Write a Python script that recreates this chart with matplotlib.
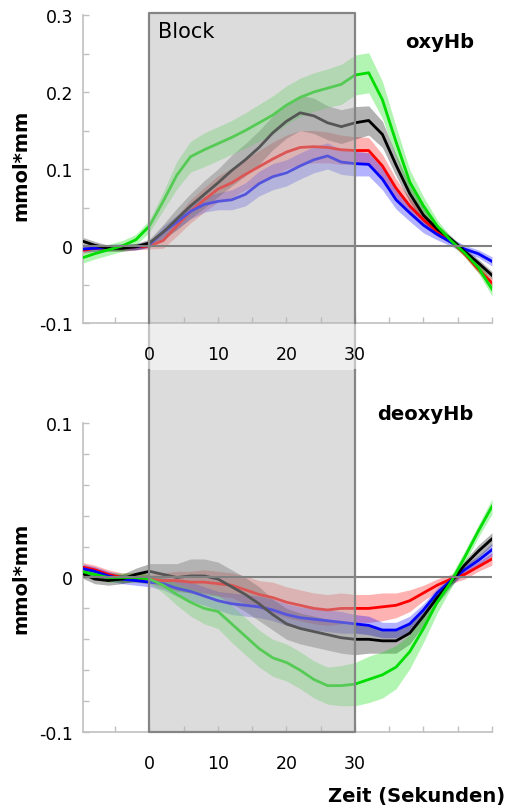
# fNIRS block average: oxyHb / deoxyHb

import numpy as np
import matplotlib
matplotlib.use('Agg')
import matplotlib.pyplot as plt
from matplotlib.patches import Rectangle
from matplotlib.lines import Line2D
from matplotlib.transforms import blended_transform_factory

# time axis (seconds), block from 0 to 30
zeit = np.arange(-10, 51, 2)
block = (0, 30)

# oxyHb means (mmol*mm)
oxy_green = [-0.016, -0.010, -0.005, 0.000, 0.008, 0.026, 0.058, 0.092, 0.116, 0.125,
             0.133, 0.141, 0.150, 0.160, 0.170, 0.183, 0.193, 0.200, 0.205, 0.210,
             0.222, 0.225, 0.190, 0.135, 0.083, 0.052, 0.026, 0.007, -0.009, -0.028, -0.056]
oxy_black = [0.007, 0.001, -0.003, -0.003, -0.001, 0.004, 0.018, 0.035, 0.052, 0.067,
             0.082, 0.098, 0.112, 0.128, 0.147, 0.162, 0.173, 0.169, 0.160, 0.155,
             0.160, 0.163, 0.145, 0.105, 0.068, 0.040, 0.022, 0.009, -0.007, -0.022, -0.038]
oxy_red = [-0.006, -0.003, -0.002, -0.002, -0.001, 0.000, 0.007, 0.026, 0.045, 0.060,
           0.074, 0.082, 0.093, 0.103, 0.113, 0.122, 0.128, 0.129, 0.128, 0.125,
           0.124, 0.124, 0.104, 0.075, 0.052, 0.034, 0.019, 0.007, -0.010, -0.030, -0.048]
oxy_blue = [-0.004, -0.003, -0.002, -0.001, -0.001, 0.002, 0.018, 0.031, 0.045, 0.054,
            0.058, 0.060, 0.067, 0.081, 0.090, 0.095, 0.104, 0.112, 0.117, 0.109,
            0.107, 0.106, 0.087, 0.060, 0.043, 0.027, 0.015, 0.005, -0.004, -0.010, -0.020]

# oxyHb error bands (half width)
oxy_green_err = [0.007, 0.007, 0.007, 0.007, 0.007, 0.008, 0.012, 0.018, 0.020, 0.022,
                 0.022, 0.022, 0.023, 0.024, 0.025, 0.025, 0.025, 0.025, 0.025, 0.026,
                 0.026, 0.026, 0.024, 0.020, 0.016, 0.012, 0.008, 0.005, 0.005, 0.007, 0.009]
oxy_black_err = [0.005, 0.005, 0.004, 0.004, 0.004, 0.005, 0.010, 0.014, 0.016, 0.018,
                 0.018, 0.020, 0.021, 0.022, 0.022, 0.022, 0.023, 0.023, 0.022, 0.022,
                 0.021, 0.019, 0.017, 0.014, 0.011, 0.009, 0.006, 0.004, 0.004, 0.005, 0.005]
oxy_red_err = [0.004, 0.004, 0.004, 0.004, 0.004, 0.004, 0.010, 0.013, 0.015, 0.016,
               0.017, 0.019, 0.020, 0.021, 0.022, 0.022, 0.022, 0.021, 0.020, 0.019,
               0.018, 0.017, 0.015, 0.012, 0.010, 0.008, 0.006, 0.004, 0.004, 0.005, 0.006]
oxy_blue_err = [0.004, 0.004, 0.004, 0.004, 0.004, 0.004, 0.008, 0.009, 0.010, 0.010,
                0.011, 0.013, 0.015, 0.016, 0.017, 0.017, 0.017, 0.017, 0.017, 0.016,
                0.016, 0.015, 0.014, 0.012, 0.011, 0.010, 0.007, 0.005, 0.005, 0.005, 0.006]

# deoxyHb means (mmol*mm)
deoxy_green = [0.004, 0.002, 0.000, 0.000, 0.000, -0.001, -0.005, -0.011, -0.016, -0.020,
               -0.022, -0.030, -0.038, -0.046, -0.052, -0.055, -0.060, -0.066, -0.070, -0.070,
               -0.069, -0.066, -0.063, -0.058, -0.048, -0.033, -0.016, -0.003, 0.013, 0.030, 0.046]
deoxy_black = [0.003, -0.001, -0.002, -0.001, 0.002, 0.004, 0.002, 0.000, 0.001, 0.001,
               -0.001, -0.006, -0.011, -0.017, -0.024, -0.030, -0.033, -0.035, -0.037, -0.039,
               -0.040, -0.040, -0.041, -0.041, -0.036, -0.025, -0.013, -0.003, 0.008, 0.017, 0.025]
deoxy_red = [0.007, 0.005, 0.002, 0.000, 0.000, -0.001, -0.002, -0.002, -0.003, -0.003,
             -0.004, -0.005, -0.008, -0.011, -0.013, -0.016, -0.018, -0.020, -0.021, -0.020,
             -0.020, -0.020, -0.019, -0.018, -0.015, -0.010, -0.005, -0.001, 0.002, 0.007, 0.012]
deoxy_blue = [0.006, 0.004, 0.001, -0.001, -0.002, -0.003, -0.004, -0.007, -0.009, -0.012,
              -0.015, -0.017, -0.018, -0.019, -0.021, -0.024, -0.026, -0.027, -0.028, -0.029,
              -0.030, -0.031, -0.034, -0.034, -0.030, -0.021, -0.010, -0.002, 0.005, 0.011, 0.018]

# deoxyHb error bands (half width)
deoxy_green_err = [0.003, 0.003, 0.003, 0.003, 0.003, 0.003, 0.005, 0.007, 0.009, 0.010,
                   0.011, 0.012, 0.012, 0.012, 0.012, 0.012, 0.012, 0.012, 0.012, 0.013,
                   0.014, 0.015, 0.015, 0.014, 0.011, 0.009, 0.007, 0.004, 0.004, 0.004, 0.005]
deoxy_black_err = [0.003, 0.003, 0.003, 0.003, 0.004, 0.005, 0.007, 0.009, 0.011, 0.011,
                   0.011, 0.011, 0.011, 0.011, 0.010, 0.010, 0.010, 0.010, 0.010, 0.010,
                   0.010, 0.009, 0.008, 0.008, 0.007, 0.006, 0.004, 0.003, 0.003, 0.004, 0.004]
deoxy_red_err = [0.003, 0.003, 0.003, 0.003, 0.003, 0.003, 0.005, 0.006, 0.007, 0.008,
                 0.008, 0.008, 0.009, 0.009, 0.010, 0.010, 0.010, 0.010, 0.010, 0.010,
                 0.009, 0.009, 0.009, 0.008, 0.007, 0.005, 0.004, 0.003, 0.003, 0.003, 0.004]
deoxy_blue_err = [0.003, 0.003, 0.003, 0.003, 0.003, 0.003, 0.004, 0.005, 0.006, 0.006,
                  0.006, 0.007, 0.007, 0.007, 0.007, 0.007, 0.007, 0.007, 0.007, 0.007,
                  0.006, 0.006, 0.005, 0.005, 0.005, 0.004, 0.003, 0.003, 0.003, 0.003, 0.004]

x_ticks = [-5, 0, 5, 10, 15, 20, 25, 30, 35, 40, 45, 50]
x_labels = ['', '0', '', '10', '', '20', '', '30', '', '', '', '']

colors = {'green': '#00dd00', 'black': '#000000', 'red': '#ff0000', 'blue': '#0000ff'}
spine_col = '#c0c0c0'
block_edge = '#858585'

oxy = [('red', oxy_red, oxy_red_err), ('blue', oxy_blue, oxy_blue_err),
       ('black', oxy_black, oxy_black_err), ('green', oxy_green, oxy_green_err)]
deoxy = [('red', deoxy_red, deoxy_red_err), ('blue', deoxy_blue, deoxy_blue_err),
         ('black', deoxy_black, deoxy_black_err), ('green', deoxy_green, deoxy_green_err)]

W, H = 509, 812
fig = plt.figure(figsize=(W / 100, H / 100), dpi=100)
ax1 = fig.add_axes([83 / W, (H - 324) / H, 409 / W, 308 / H])
ax2 = fig.add_axes([83 / W, (H - 733) / H, 409 / W, 362 / H])
ax1.set_facecolor('none')
ax2.set_facecolor('none')


def draw_panel(ax, series, ylim, yticks, ylabels, yminor, top_val):
    for name, mean, err in series:
        m = np.array(mean)
        e = np.array(err)
        ax.fill_between(zeit, m - e, m + e, color=colors[name], alpha=0.3, lw=0, zorder=2)
        ax.plot(zeit, m, color=colors[name], lw=2.0, zorder=3)
    ax.axhline(0, color='#808080', lw=1.5, zorder=6)
    # block overlay (on top of the curves)
    ax.add_patch(Rectangle((block[0], ylim[0]), block[1] - block[0], top_val - ylim[0],
                           facecolor='#b6b6b6', alpha=0.47, lw=0, zorder=5, clip_on=False))
    ax.set_xlim(-9.7, 50)
    ax.set_ylim(*ylim)
    ax.set_xticks(x_ticks)
    ax.set_xticklabels(x_labels)
    ax.set_yticks(yticks)
    ax.set_yticklabels(ylabels)
    ax.set_yticks(yminor, minor=True)
    for s in ['top', 'right']:
        ax.spines[s].set_visible(False)
    for s in ['left', 'bottom']:
        ax.spines[s].set_color(spine_col)
        ax.spines[s].set_linewidth(1.2)
    ax.spines['left'].set_bounds(yticks[0], yticks[-1])
    ax.tick_params(axis='both', which='both', direction='in', color=spine_col,
                   labelsize=12.5, width=1.0)
    ax.tick_params(axis='both', which='major', length=4)
    ax.tick_params(axis='y', which='minor', length=4)
    ax.tick_params(axis='x', pad=16)
    ax.tick_params(axis='y', pad=7)


draw_panel(ax1, oxy, (-0.1, 0.3), [-0.1, 0, 0.1, 0.2, 0.3], ['-0.1', '0', '0.1', '0.2', '0.3'],
           [-0.05, 0.05, 0.15, 0.25], 0.303)
draw_panel(ax2, deoxy, (-0.1, 0.1343), [-0.1, 0, 0.1], ['-0.1', '0', '0.1'],
           [-0.08, -0.06, -0.04, -0.02, 0.02, 0.04, 0.06, 0.08], 0.1343)

# block outlines
ax1.plot([0, 0, 30, 30], [-0.1, 0.303, 0.303, -0.1], color=block_edge, lw=1.6,
         zorder=7, clip_on=False)
ax2.plot([0, 0, 30, 30], [0.1343, -0.1, -0.1, 0.1343], color=block_edge, lw=1.6,
         zorder=7, clip_on=False)

# light band between the panels
trans = blended_transform_factory(ax1.transData, fig.transFigure)
y_lo = (H - 371) / H
y_hi = (H - 324) / H
fig.add_artist(Rectangle((0, y_lo), 30, y_hi - y_lo, transform=trans,
                         facecolor='#eeeeee', lw=0, zorder=-1))
for xv in block:
    fig.add_artist(Line2D([xv, xv], [y_lo, y_hi], transform=trans, color='#c4c4c4',
                          lw=1.6, zorder=-1))

# texts
fig.text(158 / W, 1 - 38 / H, 'Block', fontsize=15, va='baseline', ha='left')
fig.text(440 / W, 1 - 48 / H, 'oxyHb', fontsize=14, fontweight='bold', ha='center', va='baseline')
fig.text(425 / W, 1 - 420 / H, 'deoxyHb', fontsize=14, fontweight='bold', ha='center', va='baseline')
fig.text(21 / W, 1 - 165 / H, 'mmol*mm', fontsize=14, fontweight='bold', rotation=90,
         ha='center', va='center')
fig.text(21 / W, 1 - 578 / H, 'mmol*mm', fontsize=14, fontweight='bold', rotation=90,
         ha='center', va='center')
fig.text(505 / W, 1 - 802 / H, 'Zeit (Sekunden)', fontsize=14, fontweight='bold',
         ha='right', va='baseline')

plt.savefig('out.png', dpi=100)
